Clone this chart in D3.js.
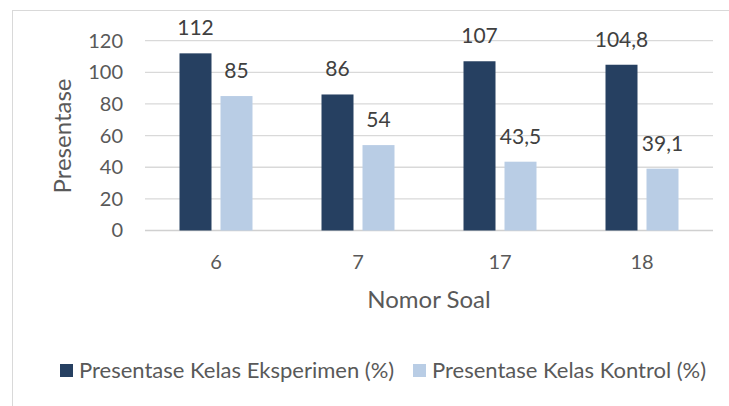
<!DOCTYPE html>
<html>
<head>
<meta charset="utf-8">
<script src="https://cdn.jsdelivr.net/npm/d3@7"></script>
<style>
  body { margin: 0; background: #fff; }
  svg { display: block; font-family: Lato, "Liberation Sans", sans-serif; }
</style>
</head>
<body>
<svg width="729" height="406"></svg>
<script>
// data
var soal = ["6", "7", "17", "18"];
var eksperimen = [112, 86, 107, 104.8];
var kontrol = [85, 54, 43.5, 39.1];
var seriesNames = ["Presentase Kelas Eksperimen (%)", "Presentase Kelas Kontrol (%)"];
var yTicks = [0, 20, 40, 60, 80, 100, 120];

var colors = ["#264061", "#b9cde5"];

var svg = d3.select("svg");

// chart frame (cut off on right and bottom in the original)
svg.append("rect")
    .attr("x", 12.5).attr("y", 10.5)
    .attr("width", 730).attr("height", 400)
    .attr("fill", "none").attr("stroke", "#d9d9d9");

var x0 = 145, x1 = 713, yTop = 40.7, yBot = 230.5;

var scX = d3.scaleBand().domain(soal).range([x0, x1]);
var scY = d3.scaleLinear().domain([0, 120]).range([yBot, yTop]);

var barW = 32, gap = 9;

// gridlines
svg.append("g").selectAll("line")
    .data(yTicks).enter()
    .append("line")
    .attr("x1", x0).attr("x2", x1)
    .attr("y1", d => scY(d)).attr("y2", d => scY(d))
    .attr("stroke", d => d === 0 ? "#d0d0d0" : "#d9d9d9")
    .attr("stroke-width", 1.3);

// y axis tick labels
var axY = d3.axisLeft(scY).tickValues(yTicks).tickSize(0).tickPadding(0);
var gY = svg.append("g")
    .attr("transform", "translate(123,0)")
    .call(axY);
gY.select(".domain").remove();
gY.selectAll("text")
    .attr("font-family", "Lato, sans-serif")
    .attr("font-size", 20)
    .attr("fill", "#595959");

// x axis labels
var axX = d3.axisBottom(scX).tickSize(0).tickPadding(0);
var gX = svg.append("g")
    .attr("transform", "translate(0,255)")
    .call(axX);
gX.select(".domain").remove();
gX.selectAll("text")
    .attr("font-family", "Lato, sans-serif")
    .attr("font-size", 20)
    .attr("fill", "#595959");

// bars
var series = [eksperimen, kontrol];
series.forEach(function(vals, si) {
    var off = si === 0 ? -gap / 2 - barW : gap / 2;
    var g = svg.append("g");
    g.selectAll("rect")
        .data(vals).enter()
        .append("rect")
        .attr("x", (d, i) => scX(soal[i]) + scX.bandwidth() / 2 + off)
        .attr("y", d => scY(d))
        .attr("width", barW)
        .attr("height", d => yBot - scY(d))
        .attr("fill", colors[si]);
    g.selectAll("text")
        .data(vals).enter()
        .append("text")
        .attr("x", (d, i) => scX(soal[i]) + scX.bandwidth() / 2 + off + barW / 2)
        .attr("y", d => scY(d) - 18)
        .attr("text-anchor", "middle")
        .attr("font-size", 21)
        .attr("fill", "#404040")
        .text(d => String(d).replace(".", ","));
});

// axis titles
svg.append("text")
    .attr("transform", "translate(71,136) rotate(-90)")
    .attr("text-anchor", "middle")
    .attr("font-size", 24)
    .attr("fill", "#595959")
    .text("Presentase");

svg.append("text")
    .attr("x", (x0 + x1) / 2).attr("y", 308)
    .attr("text-anchor", "middle")
    .attr("font-size", 24)
    .attr("fill", "#595959")
    .text("Nomor Soal");

// legend
var legX = [60, 413];
var leg = svg.append("g");
seriesNames.forEach(function(name, i) {
    leg.append("rect")
        .attr("x", legX[i]).attr("y", 364)
        .attr("width", 13).attr("height", 13)
        .attr("fill", colors[i]);
    leg.append("text")
        .attr("x", legX[i] + 19).attr("y", 378)
        .attr("font-size", 22)
        .attr("fill", "#595959")
        .text(name);
});
</script>
</body>
</html>
